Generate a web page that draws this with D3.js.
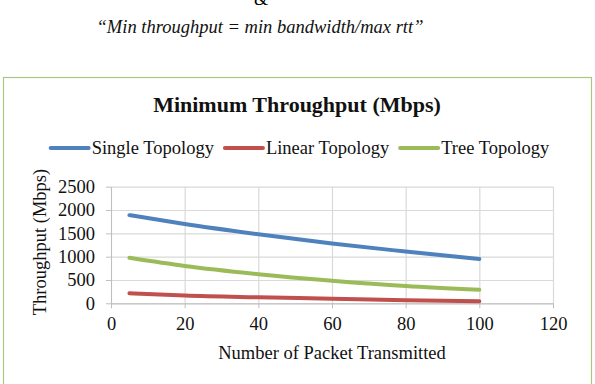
<!DOCTYPE html>
<html>
<head>
<meta charset="utf-8">
<script src="https://cdn.jsdelivr.net/npm/d3@7"></script>
<style>
  body { margin: 0; background: #fff; }
  svg { display: block; }
</style>
</head>
<body>
<div id="mainContainer"></div>
<script>
// data
const packets = [5, 20, 40, 60, 80, 100];
const singleTopology = [1890, 1700, 1480, 1280, 1110, 950];
const linearTopology = [215, 165, 128, 98, 65, 45];
const treeTopology = [975, 800, 625, 485, 370, 290];
const seriesNames = ['Single Topology', 'Linear Topology', 'Tree Topology'];
const xTicks = [0, 20, 40, 60, 80, 100, 120];
const yTicks = [0, 500, 1000, 1500, 2000, 2500];

const colors = ['#4f81bd', '#c0504d', '#9bbb59'];
const font = '"Liberation Serif", "Times New Roman", serif';

const width = 595;
const height = 384;
const plot = { left: 111, right: 553, top: 186.7, bottom: 303.3 };

const series = [singleTopology, linearTopology, treeTopology].map((vals, i) => ({
  name: seriesNames[i],
  color: colors[i],
  values: packets.map((p, j) => ({ x: p, y: vals[j] }))
}));

const svg = d3.select('#mainContainer')
  .append('svg')
  .attr('width', width)
  .attr('height', height)
  .attr('viewBox', [0, 0, width, height]);

// text above the chart (the "&" is cut by the top edge in the original too)
svg.append('text')
  .attr('x', 261).attr('y', 5)
  .attr('text-anchor', 'middle')
  .attr('font-family', font).attr('font-size', 18)
  .text('&');

svg.append('text')
  .attr('x', 260).attr('y', 33)
  .attr('text-anchor', 'middle')
  .attr('font-family', font).attr('font-size', 18.5)
  .attr('font-style', 'italic')
  .attr('fill', '#111')
  .text('\u201CMin throughput = min bandwidth/max rtt\u201D');

// chart frame
svg.append('rect')
  .attr('x', 3.5).attr('y', 77.5)
  .attr('width', 588).attr('height', 340)
  .attr('fill', '#fff')
  .attr('stroke', '#adc783')
  .attr('stroke-width', 1.2);

const x = d3.scaleLinear()
  .domain([0, 120])
  .range([plot.left, plot.right]);

const y = d3.scaleLinear()
  .domain([0, 2500])
  .range([plot.bottom, plot.top]);

// gridlines
svg.append('g')
  .attr('transform', `translate(0,${plot.bottom})`)
  .call(d3.axisBottom(x).tickValues(xTicks).tickSize(-(plot.bottom - plot.top)).tickFormat(''))
  .call(g => g.select('.domain').remove())
  .call(g => g.selectAll('line').attr('stroke', '#d9d9d9').attr('stroke-width', 1.2));

svg.append('g')
  .attr('transform', `translate(${plot.left},0)`)
  .call(d3.axisLeft(y).tickValues(yTicks).tickSize(-(plot.right - plot.left)).tickFormat(''))
  .call(g => g.select('.domain').remove())
  .call(g => g.selectAll('line').attr('stroke', '#d9d9d9').attr('stroke-width', 1.2));

//X-AXIS
svg.append('g')
  .attr('transform', `translate(0,${plot.bottom})`)
  .call(d3.axisBottom(x).tickValues(xTicks).tickFormat(d3.format('d'))
    .tickSize(5).tickSizeOuter(0).tickPadding(9))
  .call(g => g.select('.domain').attr('stroke', '#bfbfbf'))
  .call(g => g.selectAll('line').attr('stroke', '#bfbfbf'))
  .call(g => g.selectAll('text')
    .attr('font-family', font).attr('font-size', 18.5).attr('fill', '#111'));

//Y-AXIS
svg.append('g')
  .attr('transform', `translate(${plot.left},0)`)
  .call(d3.axisLeft(y).tickValues(yTicks).tickFormat(d3.format('d'))
    .tickSize(5).tickSizeOuter(0).tickPadding(11))
  .call(g => g.select('.domain').attr('stroke', '#bfbfbf'))
  .call(g => g.selectAll('line').attr('stroke', '#bfbfbf'))
  .call(g => g.selectAll('text')
    .attr('font-family', font).attr('font-size', 18.5).attr('fill', '#111'));

// lines
const line = d3.line()
  .x(d => x(d.x))
  .y(d => y(d.y))
  .curve(d3.curveMonotoneX);

svg.append('g')
  .selectAll('path')
  .data(series)
  .join('path')
    .attr('d', d => line(d.values))
    .attr('fill', 'none')
    .attr('stroke', d => d.color)
    .attr('stroke-width', 4)
    .attr('stroke-linecap', 'round');

// title
svg.append('text')
  .attr('x', 297).attr('y', 112)
  .attr('text-anchor', 'middle')
  .attr('font-family', font).attr('font-size', 22)
  .attr('font-weight', 'bold').attr('fill', '#111')
  .text('Minimum Throughput (Mbps)');

// axis titles
svg.append('text')
  .attr('x', 332).attr('y', 359)
  .attr('text-anchor', 'middle')
  .attr('font-family', font).attr('font-size', 18.5).attr('fill', '#111')
  .text('Number of Packet Transmitted');

svg.append('text')
  .attr('transform', 'translate(46,242) rotate(-90)')
  .attr('text-anchor', 'middle')
  .attr('font-family', font).attr('font-size', 18.5).attr('fill', '#111')
  .text('Throughput (Mbps)');

// legend
const legend = svg.append('g');
const items = legend.selectAll('g')
  .data(series)
  .join('g');

items.append('line')
  .attr('x1', 0).attr('x2', 38)
  .attr('y1', 148).attr('y2', 148)
  .attr('stroke', d => d.color)
  .attr('stroke-width', 4)
  .attr('stroke-linecap', 'round');

items.append('text')
  .attr('x', 41).attr('y', 154)
  .attr('font-family', font).attr('font-size', 18.5).attr('fill', '#111')
  .text(d => d.name);

let offset = 0;
const gap = 11;
items.each(function () {
  const w = 41 + d3.select(this).select('text').node().getComputedTextLength();
  d3.select(this).attr('transform', `translate(${offset},0)`);
  offset += w + gap;
});
const total = offset - gap;
legend.attr('transform', `translate(${300 - total / 2},0)`);

svg.node();
</script>
</body>
</html>
